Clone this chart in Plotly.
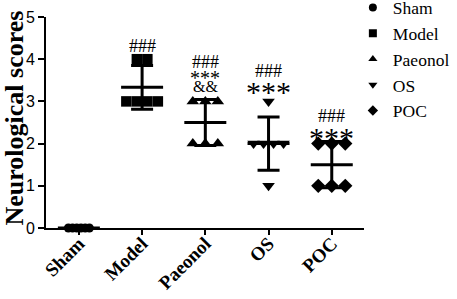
import numpy as np
import plotly.graph_objects as go

groups = ["Sham", "Model", "Paeonol", "OS", "POC"]
sham = [0, 0, 0, 0, 0, 0]
model = [4, 4, 3, 3, 3, 3]
paeonol = [3, 3, 3, 2, 2, 2]
os_vals = [3, 2, 2, 2, 2, 1]
poc = [2, 2, 2, 1, 1, 1]
values = [sham, model, paeonol, os_vals, poc]
symbols = ["circle", "square", "triangle-up", "triangle-down", "diamond"]
y_title = "Neurological scores"

# significance labels (text, group index, y position in score units)
sig_text = ["###", "###", "***", "&&", "###", "***", "###", "***"]
sig_group = [1, 2, 2, 2, 3, 3, 4, 4]
sig_y = [4.32, 3.93, 3.55, 3.36, 3.72, 3.29, 2.66, 2.2]

yticks = [0, 1, 2, 3, 4, 5]

# style
W, H = 457, 299
ml, mr, mt, mb = 46, 93, 17, 71
xr = [-0.52, 4.51]
px_per_x = (W - ml - mr) / (xr[1] - xr[0])
spacing_px = [4.2, 10.5, 12.5, 10, 13.5]
msize = [9, 10.5, 11, 11, 11]
serif = "Liberation Serif"
sans = "Liberation Sans"

fig = go.Figure()

for gi, (g, vals) in enumerate(zip(groups, values)):
    vals = np.array(vals, dtype=float)
    xs = np.zeros(len(vals))
    for v in np.unique(vals):
        idx = np.where(vals == v)[0]
        n = len(idx)
        offs = (np.arange(n) - (n - 1) / 2) * spacing_px[gi] / px_per_x
        xs[idx] = gi + offs
    mean = vals.mean()
    sd = vals.std(ddof=1)
    fig.add_trace(go.Scatter(
        x=xs, y=vals, mode="markers", showlegend=False, cliponaxis=False,
        marker=dict(symbol=symbols[gi], size=msize[gi], color="black", line=dict(width=0)),
    ))
    fig.add_trace(go.Scatter(
        x=[gi], y=[mean], mode="markers", showlegend=False, cliponaxis=False,
        marker=dict(symbol="line-ew", size=30, color="black", line=dict(width=3, color="black")),
        error_y=dict(type="data", array=[sd], visible=True, color="black", thickness=3, width=11),
    ))
    fig.add_trace(go.Scatter(
        x=[None], y=[None], mode="markers", name=g,
        marker=dict(symbol=symbols[gi], size=8, color="black"),
    ))

for t, gi, yv in zip(sig_text, sig_group, sig_y):
    if t == "###":
        fs, ys = 18, 0
    elif t == "&&":
        fs, ys = 16, 0
    elif gi == 2:
        fs, ys = 20, 0
    else:
        fs, ys = 30, -2
    fig.add_annotation(x=gi, y=yv, text=t, showarrow=False, xanchor="center", yanchor="middle",
                       yshift=ys, font=dict(family=serif, size=fs, color="black"))

# y-axis title
fig.add_annotation(xref="paper", yref="paper", x=-0.10, y=0.52, text=y_title, textangle=-90,
                   showarrow=False, xanchor="center", yanchor="middle",
                   font=dict(family=serif, size=26, color="black", weight="bold"))

fig.update_layout(
    width=W, height=H,
    margin=dict(l=ml, r=mr, t=mt, b=mb, autoexpand=False),
    paper_bgcolor="white", plot_bgcolor="white",
    legend=dict(x=0.965, y=1.13, xanchor="left", yanchor="top",
                font=dict(family=serif, size=17.5, color="black"),
                bgcolor="rgba(0,0,0,0)", tracegroupgap=0),
    xaxis=dict(range=xr, tickmode="array", tickvals=list(range(len(groups))), ticktext=groups,
               tickangle=-45, tickfont=dict(family=serif, size=19, color="black", weight="bold"),
               ticklabelstandoff=-10,
               showline=True, linecolor="black", linewidth=2, ticks="outside", ticklen=5,
               tickwidth=2, tickcolor="black", showgrid=False, zeroline=False, automargin=False),
    yaxis=dict(range=[0, 5], tickvals=yticks,
               tickfont=dict(family=sans, size=16, color="black"),
               showline=True, linecolor="black", linewidth=2, ticks="outside", ticklen=6,
               tickwidth=2, tickcolor="black", showgrid=False, zeroline=False, automargin=False),
)

fig.write_html("out.html", config={"displayModeBar": False},
               post_script="document.body.style.margin='0px';")
